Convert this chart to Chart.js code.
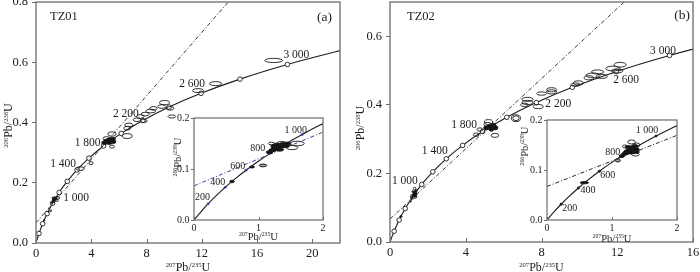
<!DOCTYPE html>
<html>
<head>
<meta charset="utf-8">
<title>U-Pb concordia TZ01 / TZ02</title>
<script src="https://cdn.jsdelivr.net/npm/chart.js@4.4.1/dist/chart.umd.min.js"></script>
<style>
  html, body { margin: 0; padding: 0; background: #fff; }
  #stage { position: relative; width: 700px; height: 272px; overflow: hidden; }
  #stage canvas { position: absolute; }
</style>
</head>
<body>
<div id="stage">
  <canvas id="mainA" width="350" height="300" style="left:0;top:-20px;width:350px;height:300px"></canvas>
  <canvas id="mainB" width="365" height="300" style="left:350px;top:-20px;width:365px;height:300px"></canvas>
  <canvas id="insetA" width="185" height="145" style="left:150px;top:100px;width:185px;height:145px"></canvas>
  <canvas id="insetB" width="190" height="145" style="left:500px;top:100px;width:190px;height:145px"></canvas>
</div>
<script>
// Concordia reference table: age (Ma) -> 207Pb/235U, 206Pb/238U
const concAge = [0, 100, 200, 300, 400, 500, 600, 700, 800, 900, 1000, 1100, 1200,
                 1400, 1600, 1800, 2000, 2200, 2400, 2600, 2800, 3000, 3200];
const concX = [0, 0.1035, 0.2177, 0.3438, 0.4828, 0.6363, 0.8056, 0.9925, 1.1987, 1.4264, 1.6774, 1.9545, 2.2603,
               2.9701, 3.8344, 4.8869, 6.1684, 7.7289, 9.6292, 11.943, 14.761, 18.192, 22.371];
const concY = [0, 0.01563, 0.03151, 0.04764, 0.06402, 0.08065, 0.09754, 0.1147, 0.1321, 0.1498, 0.1678, 0.1861, 0.2046,
               0.2426, 0.2817, 0.3221, 0.3638, 0.4067, 0.4511, 0.4968, 0.5440, 0.5926, 0.6428];

// Discordia lines (two end points each)
const discA_x = [0, 16];
const discA_y = [0.067, 0.910];
const discB_x = [0, 16];
const discB_y = [0.067, 0.886];

// Tick values
const tickA_x = [0, 4, 8, 12, 16, 20];
const tickA_y = [0, 0.2, 0.4, 0.6, 0.8];
const tickB_x = [0, 4, 8, 12, 16];
const tickB_y = [0, 0.2, 0.4, 0.6];
const tickIn_x = [0, 1, 2];
const tickIn_y = [0, 0.1, 0.2];

// TZ01 analyses: centre and 1-sigma half axes, fill 0 open / 1 black / 2 grey
const ellA_x = [17.2, 13.0, 11.73, 9.3, 9.1, 8.5, 8.3, 9.7, 9.83, 7.9, 7.55, 7.3, 7.8, 6.72, 6.6, 6.6, 5.5, 5.1, 5.5,
                4.95, 5.15, 5.35, 5.55, 5.3, 5.6,
                3.98, 3.2,
                1.17, 1.22, 1.26, 1.30, 1.34, 1.38, 1.28, 1.33, 1.42, 1.24, 1.45, 1.60, 1.52, 1.36, 1.20, 1.07, 0.90, 0.59];
const ellA_y = [0.606, 0.529, 0.506, 0.466, 0.453, 0.447, 0.438, 0.447, 0.420, 0.428, 0.420, 0.409, 0.405, 0.392, 0.381, 0.355, 0.362, 0.347, 0.320,
                0.333, 0.338, 0.342, 0.345, 0.333, 0.336,
                0.265, 0.247,
                0.133, 0.137, 0.141, 0.144, 0.146, 0.148, 0.148, 0.138, 0.145, 0.145, 0.150, 0.150, 0.142, 0.151, 0.150, 0.107, 0.104, 0.0755];
const ellA_sx = [0.65, 0.45, 0.40, 0.36, 0.30, 0.27, 0.36, 0.28, 0.28, 0.30, 0.27, 0.27, 0.25, 0.30, 0.25, 0.36, 0.30, 0.25, 0.18,
                 0.2, 0.25, 0.25, 0.2, 0.2, 0.18,
                 0.15, 0.30,
                 0.05, 0.06, 0.06, 0.07, 0.07, 0.06, 0.05, 0.06, 0.06, 0.05, 0.05, 0.11, 0.09, 0.07, 0.05, 0.06, 0.04, 0.035];
const ellA_sy = [0.007, 0.0066, 0.0066, 0.007, 0.006, 0.006, 0.006, 0.006, 0.005, 0.006, 0.006, 0.006, 0.005, 0.006, 0.006, 0.008, 0.007, 0.006, 0.005,
                 0.006, 0.007, 0.007, 0.006, 0.006, 0.006,
                 0.005, 0.006,
                 0.003, 0.003, 0.0035, 0.004, 0.004, 0.004, 0.003, 0.003, 0.003, 0.003, 0.003, 0.0045, 0.004, 0.003, 0.0025, 0.0028, 0.002, 0.0025];
const ellA_fill = [0, 0, 0, 0, 0, 0, 0, 0, 0, 0, 0, 0, 0, 0, 0, 0, 0, 0, 0,
                   1, 1, 1, 1, 1, 1,
                   0, 0,
                   1, 1, 1, 1, 1, 1, 1, 1, 1, 1, 1, 0, 0, 0, 0, 2, 1, 1];

// TZ02 analyses
const ellB_x = [12.15, 11.77, 12.0, 10.96, 10.72, 11.18, 10.5, 9.95, 9.8, 8.53, 8.53, 8.0, 7.26, 7.26, 7.1, 7.83, 6.65, 6.65, 5.2, 5.15, 5.54, 4.75, 4.55,
                5.1, 5.3, 5.45, 5.55, 5.35,
                1.15, 1.2, 1.24, 1.28, 1.32, 1.36, 1.30, 1.25, 1.35, 1.38, 1.30, 1.38, 1.36, 1.20, 1.09, 0.575];
const ellB_y = [0.517, 0.506, 0.499, 0.496, 0.486, 0.483, 0.479, 0.464, 0.459, 0.444, 0.438, 0.433, 0.416, 0.407, 0.400, 0.395, 0.361, 0.361, 0.350, 0.343, 0.311, 0.328, 0.313,
                0.333, 0.336, 0.340, 0.333, 0.328,
                0.128, 0.133, 0.137, 0.140, 0.143, 0.141, 0.135, 0.146, 0.148, 0.136, 0.156, 0.150, 0.131, 0.147, 0.119, 0.0746];
const ellB_sx = [0.32, 0.37, 0.30, 0.32, 0.37, 0.30, 0.25, 0.26, 0.25, 0.26, 0.26, 0.26, 0.30, 0.28, 0.20, 0.26, 0.24, 0.17, 0.22, 0.20, 0.20, 0.15, 0.15,
                 0.15, 0.18, 0.15, 0.15, 0.12,
                 0.04, 0.05, 0.06, 0.06, 0.07, 0.06, 0.06, 0.05, 0.05, 0.04, 0.06, 0.05, 0.06, 0.04, 0.04, 0.064];
const ellB_sy = [0.007, 0.007, 0.006, 0.006, 0.007, 0.006, 0.006, 0.006, 0.005, 0.006, 0.006, 0.005, 0.006, 0.006, 0.005, 0.006, 0.010, 0.007, 0.007, 0.006, 0.006, 0.005, 0.005,
                 0.006, 0.007, 0.006, 0.006, 0.005,
                 0.003, 0.003, 0.0035, 0.004, 0.004, 0.004, 0.003, 0.003, 0.003, 0.003, 0.004, 0.004, 0.003, 0.003, 0.003, 0.0022];
const ellB_fill = [0, 0, 0, 0, 0, 0, 0, 0, 0, 0, 0, 0, 0, 0, 0, 0, 0, 0, 0, 0, 0, 0, 0,
                   1, 1, 1, 1, 1,
                   1, 1, 1, 1, 1, 1, 1, 1, 1, 1, 0, 0, 0, 0, 2, 1];

// Age labels along the concordia
const labA_text = ['1 000', '1 400', '1 800', '2 200', '2 600', '3 000'];
const labA_age = [1000, 1400, 1800, 2200, 2600, 3000];
const labB_text = ['1 000', '1 400', '1 800', '2 200', '2 600', '3 000'];
const labB_age = [1000, 1400, 1800, 2200, 2600, 2800];
const labIn_text = ['200', '400', '600', '800', '1 000'];
const labIn_age = [200, 400, 600, 800, 1000];

// ---- styling ----
const SERIF = "'Liberation Serif', 'Times New Roman', serif";
const INK = '#1c1c1c';
const FRAME = '#6b6b6b';
const PURPLE = '#4b3c9e';

// label placement: [dx, dy, textAlign] relative to the concordia point
const PLACE_A = [[4, 5.5, 'left'], [-1, -6, 'right'], [-3, -3, 'right'], [-4, -6.5, 'right'], [4, -9.6, 'right'], [-4, -9.3, 'left']];
const PLACE_B = [[-4, -3.5, 'right'], [1.5, -8, 'right'], [-5.5, -7, 'right'], [9, 1, 'left'], [-3, 8.7, 'left'], [6.4, -5, 'right']];
const PLACE_INA = [[2, -6.6, 'right'], [0, -4.6, 'right'], [-0.7, -4.3, 'right'], [-6, -4.3, 'right'], [4.8, -3.7, 'right']];
const PLACE_INB = [[1, 4, 'left'], [2, 2.7, 'left'], [1, 3.8, 'left'], [-4.6, -1.3, 'right'], [2.3, -6, 'right']];

// Isotope ratio axis title with small superscript mass numbers
function drawRatioTitle(ctx, cx, cy, upper, lower, size, vertical) {
    const small = size * 0.55;
    const parts = [[upper, small], ['Pb/', size], [lower, small], ['U', size]];
    ctx.save();
    ctx.translate(cx, cy);
    if (vertical) ctx.rotate(-Math.PI / 2);
    let w = 0;
    parts.forEach(p => { ctx.font = p[1] + 'px ' + SERIF; w += ctx.measureText(p[0]).width; });
    let px = -w / 2;
    const base = size * 0.35;
    ctx.fillStyle = INK;
    ctx.textAlign = 'left';
    ctx.textBaseline = 'alphabetic';
    parts.forEach(p => {
        ctx.font = p[1] + 'px ' + SERIF;
        ctx.fillText(p[0], px, p[1] === size ? base : base - size * 0.38);
        px += ctx.measureText(p[0]).width;
    });
    ctx.restore();
}

// Error ellipses, sized through the chart scales
function drawEllipses(chart, e) {
    const { ctx, chartArea: a, scales: { x, y } } = chart;
    ctx.save();
    ctx.beginPath();
    ctx.rect(a.left, a.top, a.right - a.left, a.bottom - a.top);
    ctx.clip();
    ctx.lineWidth = e.lw;
    ctx.strokeStyle = INK;
    e.x.forEach((cx, i) => {
        const px = x.getPixelForValue(cx);
        const py = y.getPixelForValue(e.y[i]);
        const rx = Math.max(Math.abs(x.getPixelForValue(cx + e.sx[i]) - px), 0.6);
        const ry = Math.max(Math.abs(y.getPixelForValue(e.y[i] + e.sy[i]) - py), 0.6);
        ctx.beginPath();
        ctx.ellipse(px, py, rx, ry, 0, 0, Math.PI * 2);
        if (e.fill[i] === 1) { ctx.fillStyle = '#111'; ctx.fill(); }
        if (e.fill[i] === 2) { ctx.fillStyle = '#9a9a9a'; ctx.fill(); }
        ctx.stroke();
    });
    ctx.restore();
}

function drawAgeLabels(chart, lab) {
    const { ctx, scales: { x, y } } = chart;
    ctx.save();
    ctx.font = lab.size + 'px ' + SERIF;
    ctx.fillStyle = INK;
    ctx.textBaseline = 'middle';
    lab.text.forEach((t, i) => {
        const k = concAge.indexOf(lab.age[i]);
        const [dx, dy, align] = lab.place[i];
        ctx.textAlign = align;
        ctx.fillText(t, x.getPixelForValue(concX[k]) + dx, y.getPixelForValue(concY[k]) + dy);
    });
    ctx.restore();
}

function decorPlugin(o) {
    return {
        id: 'decor',
        beforeDraw(chart) {
            const { ctx, chartArea: a } = chart;
            ctx.save();
            ctx.fillStyle = '#fff';
            ctx.fillRect(a.left, a.top, a.right - a.left, a.bottom - a.top);
            ctx.restore();
        },
        afterDatasetsDraw(chart) {
            drawEllipses(chart, o.ell);
            drawAgeLabels(chart, o.labels);
        },
        afterDraw(chart) {
            const { ctx, chartArea: a, scales: { x } } = chart;
            ctx.save();
            ctx.strokeStyle = FRAME;
            ctx.lineWidth = o.frameW;
            ctx.strokeRect(a.left, a.top, a.right - a.left, a.bottom - a.top);
            // x ticks point into the plot
            ctx.lineWidth = 1;
            o.xTicks.forEach(v => {
                const px = Math.round(x.getPixelForValue(v)) + 0.5;
                ctx.beginPath();
                ctx.moveTo(px, a.bottom);
                ctx.lineTo(px, a.bottom - o.tickLen);
                ctx.stroke();
            });
            // captions
            ctx.fillStyle = INK;
            ctx.textBaseline = 'middle';
            (o.captions || []).forEach(c => {
                ctx.font = c[4] + 'px ' + SERIF;
                ctx.textAlign = c[1];
                ctx.fillText(c[0], c[1] === 'left' ? a.left + c[2] : a.right - c[2], a.top + c[3]);
            });
            ctx.restore();
            drawRatioTitle(ctx, (a.left + a.right) / 2, a.bottom + o.xTitleDy, '207', '235', o.titleSize, false);
            drawRatioTitle(ctx, o.yTitleX, (a.top + a.bottom) / 2 + o.yTitleDy, '206', '238', o.titleSize, true);
        }
    };
}

function buildConcordia(id, o) {
    const concPts = concAge.map((age, i) => ({ x: concX[i], y: concY[i] }));
    const discPts = o.discX.map((v, i) => ({ x: v, y: o.discY[i] }));
    return new Chart(document.getElementById(id), {
        type: 'scatter',
        data: {
            datasets: [
                {
                    label: 'Discordia',
                    data: discPts,
                    showLine: true,
                    borderColor: o.discColor,
                    borderWidth: 1,
                    borderDash: [4, 2, 1, 2],
                    pointRadius: 0
                },
                {
                    label: 'Concordia',
                    data: concPts,
                    showLine: true,
                    borderColor: INK,
                    borderWidth: 1.1,
                    cubicInterpolationMode: 'monotone',
                    pointRadius: c => (concAge[c.dataIndex] > 0 && concAge[c.dataIndex] % 200 === 0) ? o.markR : 0,
                    pointBackgroundColor: o.markFill,
                    pointBorderColor: o.markLine,
                    pointBorderWidth: o.markBW
                }
            ]
        },
        options: {
            responsive: false,
            animation: false,
            events: [],
            layout: { padding: o.pad },
            scales: {
                x: {
                    type: 'linear', min: 0, max: o.xMax,
                    afterBuildTicks: s => { s.ticks = o.xTicks.map(v => ({ value: v })); },
                    afterFit: s => { s.height = o.xH; },
                    grid: { display: false, drawTicks: false },
                    border: { display: false },
                    ticks: { color: INK, padding: o.xPad, maxRotation: 0, autoSkip: false,
                             font: { family: SERIF, size: o.tickSize }, callback: v => String(v) }
                },
                y: {
                    type: 'linear', min: 0, max: o.yMax,
                    afterBuildTicks: s => { s.ticks = o.yTicks.map(v => ({ value: v })); },
                    afterFit: s => { s.width = o.yW; },
                    grid: { display: true, drawOnChartArea: false, drawTicks: true, tickLength: o.yTickLen, color: FRAME, lineWidth: 1 },
                    border: { display: false },
                    ticks: { color: INK, padding: o.yPad, autoSkip: false,
                             font: { family: SERIF, size: o.tickSize }, callback: v => v.toFixed(1) }
                }
            },
            plugins: { legend: { display: false }, tooltip: { enabled: false } }
        },
        plugins: [decorPlugin(o)]
    });
}

const ellA = { x: ellA_x, y: ellA_y, sx: ellA_sx, sy: ellA_sy, fill: ellA_fill, lw: 0.9 };
const ellB = { x: ellB_x, y: ellB_y, sx: ellB_sx, sy: ellB_sy, fill: ellB_fill, lw: 0.9 };

// 1. TZ01 main diagram
buildConcordia('mainA', {
    xMax: 22, yMax: 0.8, xTicks: tickA_x, yTicks: tickA_y,
    pad: { left: 0, top: 22, right: 10, bottom: 15 }, yW: 36, xH: 22,
    tickSize: 12.5, xPad: 3, yPad: 4, yTickLen: 4, tickLen: 4, frameW: 1.3,
    discX: discA_x, discY: discA_y, discColor: '#3a3a3a',
    markR: 2.3, markFill: '#fff', markLine: INK, markBW: 0.9,
    ell: ellA,
    labels: { text: labA_text, age: labA_age, place: PLACE_A, size: 11.5 },
    titleSize: 12, xTitleDy: 24, yTitleX: 8, yTitleDy: 3,
    captions: [['TZ01', 'left', 14, 15, 12.5], ['(a)', 'right', 8, 15, 13.5]]
});

// 2. TZ02 main diagram
buildConcordia('mainB', {
    xMax: 16, yMax: 0.7, xTicks: tickB_x, yTicks: tickB_y,
    pad: { left: 0, top: 22, right: 22, bottom: 16 }, yW: 40, xH: 22,
    tickSize: 12.5, xPad: 3, yPad: 4, yTickLen: 4, tickLen: 4, frameW: 1.3,
    discX: discB_x, discY: discB_y, discColor: '#3a3a3a',
    markR: 2.3, markFill: '#fff', markLine: INK, markBW: 0.9,
    ell: ellB,
    labels: { text: labB_text, age: labB_age, place: PLACE_B, size: 11.5 },
    titleSize: 12, xTitleDy: 25, yTitleX: 10, yTitleDy: 6,
    captions: [['TZ02', 'left', 17, 15, 12.5], ['(b)', 'right', 3, 13, 13.5]]
});

// 3. TZ01 inset (young part)
buildConcordia('insetA', {
    xMax: 2, yMax: 0.2, xTicks: tickIn_x, yTicks: tickIn_y,
    pad: { left: 0, top: 18, right: 12, bottom: 11 }, yW: 44, xH: 14,
    tickSize: 10, xPad: 2, yPad: 1.5, yTickLen: 3, tickLen: 3, frameW: 1.2,
    discX: discA_x, discY: discA_y, discColor: PURPLE,
    markR: 1.4, markFill: PURPLE, markLine: PURPLE, markBW: 0,
    ell: ellA,
    labels: { text: labIn_text, age: labIn_age, place: PLACE_INA, size: 10 },
    titleSize: 10.5, xTitleDy: 16, yTitleX: 27, yTitleDy: -12,
    captions: []
});

// 4. TZ02 inset
buildConcordia('insetB', {
    xMax: 2, yMax: 0.2, xTicks: tickIn_x, yTicks: tickIn_y,
    pad: { left: 0, top: 20, right: 13, bottom: 11 }, yW: 47, xH: 14,
    tickSize: 10, xPad: 2, yPad: 1.5, yTickLen: 3, tickLen: 3, frameW: 1.2,
    discX: discB_x, discY: discB_y, discColor: '#2a2a2a',
    markR: 1.4, markFill: INK, markLine: INK, markBW: 0,
    ell: ellB,
    labels: { text: labIn_text, age: labIn_age, place: PLACE_INB, size: 10 },
    titleSize: 10.5, xTitleDy: 18, yTitleX: 24, yTitleDy: -24,
    captions: []
});
</script>
</body>
</html>
